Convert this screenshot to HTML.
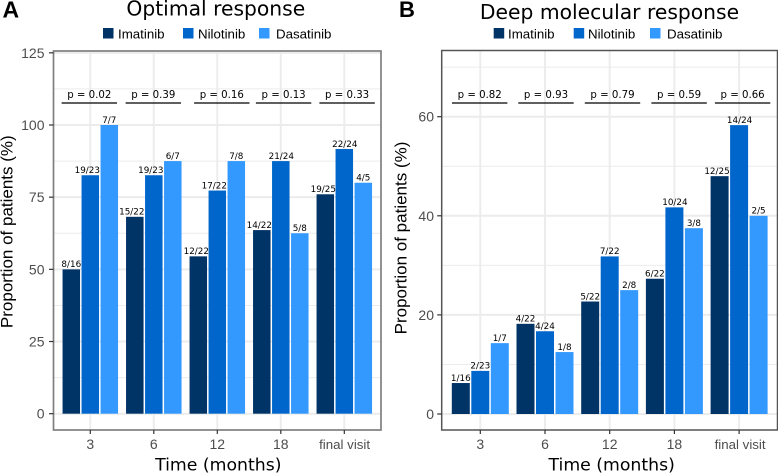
<!DOCTYPE html>
<html lang="en">
<head>
<meta charset="utf-8">
<title>Optimal and deep molecular response</title>
<style>
html,body{margin:0;padding:0;background:#fff;width:778px;height:474px;overflow:hidden}
svg{display:block}
.dv{font-family:"DejaVu Sans",sans-serif}
.ls{font-family:"Liberation Sans",sans-serif}
</style>
</head>
<body>
<svg id="chart" width="778" height="474" viewBox="0 0 778 474" xmlns="http://www.w3.org/2000/svg">
  <text class="ls" x="2.5" y="17.3" font-size="23" font-weight="bold" fill="#000">A</text>
  <text class="ls" x="399" y="17" font-size="22" font-weight="bold" fill="#000">B</text>
  <text class="dv" x="215.8" y="15.5" font-size="20.3" text-anchor="middle" fill="#000">Optimal response</text>
  <text class="dv" x="609.5" y="19" font-size="20.3" text-anchor="middle" fill="#000">Deep molecular response</text>
  <text class="dv" x="218.3" y="470.5" font-size="17.3" text-anchor="middle" fill="#000">Time (months)</text>
  <text class="dv" x="611.7" y="470.5" font-size="17.3" text-anchor="middle" fill="#000">Time (months)</text>
  <text class="ls" transform="translate(12.5,231.7) rotate(-90)" font-size="17" text-anchor="middle" fill="#000">Proportion of patients (%)</text>
  <text class="ls" transform="translate(406.7,238) rotate(-90)" font-size="17" text-anchor="middle" fill="#000">Proportion of patients (%)</text>
</svg>
<script>
var categories = ['3', '6', '12', '18', 'final visit'];
var seriesNames = ['Imatinib', 'Nilotinib', 'Dasatinib'];

var aImatinib = [50, 68.2, 54.5, 63.6, 76];
var aNilotinib = [82.6, 82.6, 77.3, 87.5, 91.7];
var aDasatinib = [100, 87.5, 87.5, 62.5, 80];
var aImatinibLabels = ['8/16', '15/22', '12/22', '14/22', '19/25'];
var aNilotinibLabels = ['19/23', '19/23', '17/22', '21/24', '22/24'];
var aDasatinibLabels = ['7/7', '6/7', '7/8', '5/8', '4/5'];
var aPValues = ['p = 0.02', 'p = 0.39', 'p = 0.16', 'p = 0.13', 'p = 0.33'];
var aYTicks = [0, 25, 50, 75, 100, 125];
var aYMinor = [12.5, 37.5, 62.5, 87.5, 112.5];

var bImatinib = [6.25, 18.2, 22.7, 27.3, 48];
var bNilotinib = [8.7, 16.7, 31.8, 41.7, 58.3];
var bDasatinib = [14.3, 12.5, 25, 37.5, 40];
var bImatinibLabels = ['1/16', '4/22', '5/22', '6/22', '12/25'];
var bNilotinibLabels = ['2/23', '4/24', '7/22', '10/24', '14/24'];
var bDasatinibLabels = ['1/7', '1/8', '2/8', '3/8', '2/5'];
var bPValues = ['p = 0.82', 'p = 0.93', 'p = 0.79', 'p = 0.59', 'p = 0.66'];
var bYTicks = [0, 20, 40, 60];
var bYMinor = [10, 30, 50, 70];

var colors = ['#003366', '#0066cc', '#3399ff'];
var NS = 'http://www.w3.org/2000/svg';
var svg = document.getElementById('chart');

function mk(tag, attrs, parent, txt) {
  var e = document.createElementNS(NS, tag);
  for (var k in attrs) e.setAttribute(k, attrs[k]);
  if (txt !== undefined) e.textContent = txt;
  (parent || svg).appendChild(e);
  return e;
}

function drawPanel(p) {
  var g = mk('g', {});
  
  
  function y(v) { return p.y0 - v * p.pxPerUnit; }
  function x(i) { return p.x0 + i * p.step; }

  var i, s, e;
  mk('rect', {x: p.left, y: p.top, width: p.right - p.left, height: p.bottom - p.top, fill: '#fff'}, g);

  p.minor.forEach(function (v) {
    e = mk('line', {x1: p.left, x2: p.right, y1: y(v), y2: y(v), stroke: '#ececec', 'stroke-width': 1}, g);
    
    
  });
  p.ticks.forEach(function (v) {
    e = mk('line', {x1: p.left, x2: p.right, y1: y(v), y2: y(v), stroke: '#ececec', 'stroke-width': 2}, g);
    
    
  });
  categories.forEach(function (c, k) {
    e = mk('line', {x1: x(k), x2: x(k), y1: p.top, y2: p.bottom, stroke: '#ececec', 'stroke-width': 2}, g);
    
    
  });

  for (s = 0; s < 3; s++) {
    for (i = 0; i < categories.length; i++) {
      var bx = x(i) + (s - 1) * p.dodge - p.barW / 2;
      e = mk('rect', {x: bx, y: y(p.values[s][i]), width: p.barW, height: p.y0 - y(p.values[s][i]), fill: colors[s]}, g);
      
      
    }
  }
  for (s = 0; s < 3; s++) {
    for (i = 0; i < categories.length; i++) {
      var txt = p.labels[s][i];
      var dx = (s < 2 && txt.length > 4) ? p.longShift[s][i] : 0;
      e = mk('text', {x: x(i) + (s - 1) * p.dodge + dx, y: y(p.values[s][i]) - 2.2, 'font-size': 8.8, 'text-anchor': 'middle', fill: '#000', 'class': 'dv'}, g, txt);
      
      
    }
  }

  p.pValues.forEach(function (t, k) {
    var cx = x(k) + p.pShift[k];
    e = mk('line', {x1: cx - 27.7, x2: cx + 27.7, y1: 103, y2: 103, stroke: '#000', 'stroke-width': 1.2}, g);
    
    
    e = mk('text', {x: cx, y: 98, 'font-size': 10.2, 'text-anchor': 'middle', fill: '#000', 'class': 'dv'}, g, t);
    
    
  });

  e = mk('rect', {x: p.left, y: p.top, width: p.right - p.left, height: p.bottom - p.top, fill: 'none', stroke: p.borderColor, 'stroke-width': p.borderWidth}, g);
  
  

  p.ticks.forEach(function (v) {
    e = mk('line', {x1: p.left - 4.5, x2: p.left, y1: y(v), y2: y(v), stroke: '#333', 'stroke-width': 1.2}, g);
    
    
    e = mk('text', {x: p.left - p.tickGap, y: y(v) + 5, 'font-size': 14, 'text-anchor': 'end', fill: '#4d4d4d', 'class': 'ls'}, g, String(v));
    
    
  });
  categories.forEach(function (c, k) {
    e = mk('line', {x1: x(k), x2: x(k), y1: p.bottom, y2: p.bottom + 4, stroke: '#333', 'stroke-width': 1.2}, g);
    
    
    e = mk('text', {x: x(k) + (k === 4 ? p.finalShift : 0), y: 449, 'font-size': k === 4 ? 13.3 : 14, 'text-anchor': 'middle', fill: '#4d4d4d', 'class': 'ls'}, g, c);
    
    
  });

  seriesNames.forEach(function (n, k) {
    e = mk('rect', {x: p.legendSwatch[k], y: p.legendY, width: 10.5, height: 10.5, fill: colors[k]}, g);
    
    
    e = mk('text', {x: p.legendText[k], y: p.legendY + 10.3, 'font-size': 13.3, fill: '#000', 'class': 'ls'}, g, n);
    
    
  });
}

drawPanel({
  id: 'panel-a',
  left: 53.5, right: 381, top: 51, bottom: 430,
  y0: 413.7, pxPerUnit: 2.887,
  x0: 90.3, step: 63.5, dodge: 19, barW: 17.5,
  values: [aImatinib, aNilotinib, aDasatinib],
  labels: [aImatinibLabels, aNilotinibLabels, aDasatinibLabels],
  pValues: aPValues, ticks: aYTicks, minor: aYMinor,
  pShift: [-1, -0.5, 4.5, 2.8, 2.8],
  longShift: [[0, -3, -2, -2.5, -2], [-3, -3, -3, 0.5, 0.5]],
  finalShift: 0.3,
  tickGap: 9,
  borderColor: '#7f7f7f', borderWidth: 1.7,
  legendSwatch: [103, 183, 259], legendText: [118, 198, 276], legendY: 28
});

drawPanel({
  id: 'panel-b',
  left: 441.7, right: 777.5, top: 50.5, bottom: 430,
  y0: 414, pxPerUnit: 4.955,
  x0: 480.3, step: 64.7, dodge: 19.5, barW: 18,
  values: [bImatinib, bNilotinib, bDasatinib],
  labels: [bImatinibLabels, bNilotinibLabels, bDasatinibLabels],
  pValues: bPValues, ticks: bYTicks, minor: bYMinor,
  pShift: [-0.6, 1, 2.8, 4.7, 3.5],
  longShift: [[0, 0, 0, 0, -2.6], [0, 0, 0, 0.5, 0.5]],
  finalShift: 1,
  tickGap: 7.7,
  borderColor: '#555', borderWidth: 1.5,
  legendSwatch: [493.7, 573.7, 650], legendText: [508, 588, 667], legendY: 28
});
</script>
</body>
</html>
